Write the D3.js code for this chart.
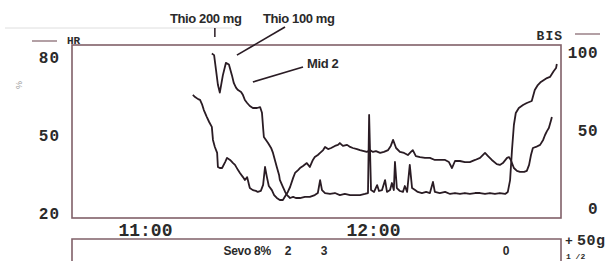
<!DOCTYPE html>
<html>
<head>
<meta charset="utf-8">
<script src="https://cdn.jsdelivr.net/npm/d3@7"></script>
<style>
  body { margin: 0; background: #fff; }
  svg { display: block; }
  .mono { font-family: "Liberation Mono", "DejaVu Sans Mono", monospace; font-weight: bold; fill: #2a2a2a; }
  .note { font-family: "Liberation Sans", Arial, sans-serif; font-weight: bold; fill: #2a2a2a; }
</style>
</head>
<body>
<div id="chart"></div>
<script>
// [minutes after 10:00, value]
const hr = [
  [72.6,65.4],[73.2,64.6],[74.0,63.8],[74.5,63.5],[75.0,61.9],[75.5,59.6],[76.3,56.9],[76.9,55.0],
  [77.6,53.1],[77.9,48.1],[78.4,45.4],[79.0,43.1],[79.2,37.7],[79.7,37.3],[80.3,37.3],[81.1,39.6],
  [81.6,41.2],[82.4,40.4],[83.2,39.2],[83.7,38.5],[84.5,36.5],[85.0,35.4],[85.8,33.8],[86.3,32.7],
  [86.9,33.8],[87.4,30.8],[87.6,29.6],[88.4,28.8],[89.2,28.5],[89.7,28.1],[90.5,28.5],[91.1,30.8],
  [91.6,37.7],[92.1,33.8],[92.6,30.4],[93.4,28.8],[94.0,26.9],[94.7,25.8],[95.5,25.0],[96.3,25.0],
  [97.1,26.9],[97.6,28.1],[98.2,30.0],[99.0,33.5],[99.5,35.4],[100.3,36.5],[100.8,37.3],[101.6,38.1],
  [102.6,39.2],[103.4,37.7],[104.2,40.4],[104.7,41.5],[105.5,42.3],[106.1,43.1],[106.9,44.2],[107.4,45.4],
  [108.2,44.6],[109.0,45.0],[110.0,45.8],[110.8,46.2],[111.3,46.9],[112.1,45.8],[113.2,46.2],[114.0,45.4],
  [114.7,45.0],[115.8,44.6],[116.6,44.2],[117.6,43.8],[118.4,43.5],[119.2,44.2],[120.0,43.5],[120.8,43.8],
  [121.9,43.1],[122.9,43.5],[124.0,44.2],[124.7,45.8],[125.3,48.1],[126.1,45.0],[127.1,43.5],[128.2,43.1],
  [129.2,42.3],[130.0,43.5],[130.5,44.2],[131.3,41.9],[132.4,41.5],[133.7,41.2],[135.0,41.2],[136.3,40.4],
  [137.6,40.4],[139.0,40.4],[140.0,39.6],[140.8,37.3],[141.6,40.0],[142.9,40.0],[144.2,39.6],[145.5,39.6],
  [146.9,40.4],[148.2,41.2],[149.5,43.1],[150.3,41.9],[151.3,40.4],[152.6,38.8],[153.4,38.5],[154.2,39.2],
  [155.3,41.2],[155.8,41.5],[156.3,40.4],[157.1,37.3],[157.9,36.2],[158.7,35.8],[159.8,35.8],[160.5,36.2],
  [161.1,38.5],[161.6,42.3],[162.1,45.0],[162.9,45.4],[164.0,46.2],[164.8,48.1],[165.3,50.0],[165.8,51.5],
  [166.3,52.7],[166.9,55.8],[167.1,56.9]
];
const bis = [
  [77.6,99],[78.2,98],[78.7,88.5],[79.2,79],[79.7,74],[80.5,85],[81.3,93],[82.1,92],[82.9,85],[83.4,80],
  [84.0,77],[84.5,75.6],[85.3,74.4],[85.8,72.4],[86.3,69.2],[86.9,67.3],[87.6,65.4],[88.4,64.1],[89.5,64.1],
  [90.3,64.7],[90.8,61],[91.1,51.3],[91.3,45.5],[92.4,41.7],[93.2,38.5],[93.7,35.3],[94.2,30.8],[94.7,26.3],
  [95.3,21.2],[95.5,18],[96.3,13.5],[96.9,10.3],[97.4,8.3],[98.2,6.4],[99.0,7.1],[99.7,6.4],[100.8,6.4],
  [102.1,7.1],[103.4,7.1],[104.7,8.3],[105.5,9.6],[106.1,17.9],[106.6,11.5],[107.4,9.6],[108.7,9.0],
  [110.0,9.6],[111.3,8.3],[112.6,9.0],[114.0,8.3],[115.3,8.3],[116.6,8.3],[117.9,9.0],[118.7,9.6],
  [119.0,59.6],[119.5,11.5],[120.3,10.3],[121.1,14.7],[121.6,10.9],[122.4,11.5],[123.2,17.9],[123.7,10.3],
  [124.5,11.5],[125.0,16.0],[125.5,11.5],[125.8,29.5],[126.3,12.8],[127.1,10.9],[127.9,10.3],[128.4,14.1],
  [129.0,10.3],[129.7,27.6],[130.3,12.8],[131.1,11.5],[131.8,10.3],[132.9,9.6],[134.0,10.3],[135.0,9.6],
  [135.8,16.7],[136.3,10.3],[137.6,9.6],[139.0,10.3],[140.3,9.0],[141.6,9.6],[142.9,9.0],[144.2,9.6],
  [145.5,9.0],[146.9,9.6],[148.2,9.6],[149.5,9.0],[150.8,9.6],[152.1,9.0],[153.4,9.6],[154.8,9.0],
  [155.5,10.3],[156.1,17.9],[156.6,37.2],[157.1,53.2],[157.6,60.9],[158.4,64.1],[159.5,66],[160.5,67.3],
  [161.8,68.6],[162.6,75.6],[163.4,78.8],[164.2,80.8],[165.0,82.1],[165.8,83.3],[166.6,84],[167.1,85.9],
  [167.6,87.8],[168.2,89.7],[168.4,92.3]
];
const hrTicks = [20, 50, 80];
const bisTicks = [0, 50, 100];
const timeTicks = [60, 120];
const timeLabels = ["11:00", "12:00"];
const drugTimes = [86.9, 97.6, 107.1, 155.0];
const drugLabels = ["Sevo 8%", "2", "3", "0"];

const width = 616, height = 261;
const box = { left: 72, right: 561, top: 45, bottom: 218 };
const ink = "#2a1c24", frame = "#806068";

const svg = d3.select("#chart").append("svg")
  .attr("width", width)
  .attr("height", height);

const x = d3.scaleLinear().domain([40.8, 169.5]).range([box.left, box.right]);
const yL = d3.scaleLinear().domain([20, 80]).range([213, 57]);
const yR = d3.scaleLinear().domain([0, 100]).range([208, 52]);

// faint scan line at top
svg.append("line")
  .attr("x1", 5).attr("x2", 232).attr("y1", 28).attr("y2", 28)
  .attr("stroke", "#dedede").attr("stroke-width", 1);

// frame
svg.append("rect")
  .attr("x", box.left).attr("y", box.top)
  .attr("width", box.right - box.left).attr("height", box.bottom - box.top)
  .attr("fill", "none").attr("stroke", frame).attr("stroke-width", 1.6);

// lower panel
svg.append("path")
  .attr("d", `M${box.left},${height}V239H${box.right}V${height}`)
  .attr("fill", "none").attr("stroke", frame).attr("stroke-width", 1.6);

// axes
svg.append("g")
  .attr("transform", `translate(${box.left},0)`)
  .call(d3.axisLeft(yL).tickValues(hrTicks).tickSize(0).tickPadding(12))
  .call(g => g.select(".domain").remove())
  .selectAll("text")
  .attr("class", "mono")
  .style("font-size", "16px")
  .style("letter-spacing", "1px");

svg.append("g")
  .attr("transform", `translate(${box.right},0)`)
  .call(d3.axisRight(yR).tickValues(bisTicks).tickSize(0).tickPadding(37))
  .call(g => g.select(".domain").remove())
  .selectAll("text")
  .attr("class", "mono")
  .attr("text-anchor", "end")
  .style("font-size", "16px")
  .style("letter-spacing", "0.5px");

svg.append("g")
  .attr("transform", `translate(0,${box.bottom})`)
  .call(d3.axisBottom(x).tickValues(timeTicks).tickFormat((d, i) => timeLabels[i]).tickSize(0).tickPadding(5))
  .call(g => g.select(".domain").remove())
  .selectAll("text")
  .attr("class", "mono")
  .style("font-size", "18px");

// legends
svg.append("line").attr("x1", 32).attr("x2", 57).attr("y1", 41).attr("y2", 41)
  .attr("stroke", frame).attr("stroke-width", 1.2);
svg.append("text").attr("class", "mono").attr("x", 67).attr("y", 44)
  .style("font-size", "11px").text("HR");
svg.append("line").attr("x1", 575).attr("x2", 600).attr("y1", 34).attr("y2", 34)
  .attr("stroke", frame).attr("stroke-width", 1.2);
svg.append("text").attr("class", "mono").attr("x", 563).attr("y", 40)
  .attr("text-anchor", "end").style("font-size", "13px").style("letter-spacing", "1px").text("BIS");
svg.append("text").attr("x", 22).attr("y", 85)
  .attr("transform", "rotate(-90,22,85)").attr("text-anchor", "middle")
  .style("font", "9px 'Liberation Sans'").attr("fill", "#9a9a9a").text("%");

// traces
const lineL = d3.line().x(d => x(d[0])).y(d => yL(d[1]));
const lineR = d3.line().x(d => x(d[0])).y(d => yR(d[1]));

svg.append("path").datum(hr)
  .attr("fill", "none").attr("stroke", ink).attr("stroke-width", 1.8)
  .attr("stroke-linejoin", "round").attr("d", lineL);
svg.append("path").datum(bis)
  .attr("fill", "none").attr("stroke", ink).attr("stroke-width", 1.8)
  .attr("stroke-linejoin", "round").attr("d", lineR);

// drug annotations
svg.append("line")
  .attr("x1", x(78.4)).attr("x2", x(78.4)).attr("y1", 28).attr("y2", 37)
  .attr("stroke", ink).attr("stroke-width", 1.5);
svg.append("text").attr("class", "note").attr("x", 170).attr("y", 23)
  .style("font-size", "13px").style("letter-spacing", "-0.4px").text("Thio 200 mg");

svg.append("line")
  .attr("x1", 285).attr("y1", 27).attr("x2", x(84.2)).attr("y2", yR(98))
  .attr("stroke", ink).attr("stroke-width", 1.7);
svg.append("text").attr("class", "note").attr("x", 263).attr("y", 23)
  .style("font-size", "13px").style("letter-spacing", "-0.4px").text("Thio 100 mg");

svg.append("line")
  .attr("x1", 303).attr("y1", 67).attr("x2", x(88.4)).attr("y2", yR(80.8))
  .attr("stroke", ink).attr("stroke-width", 1.7);
svg.append("text").attr("class", "note").attr("x", 307).attr("y", 68)
  .style("font-size", "13px").style("letter-spacing", "-0.4px").text("Mid 2");

// lower panel labels
svg.selectAll("text.drug")
  .data(drugTimes)
  .join("text")
  .attr("class", "note drug")
  .attr("x", d => x(d))
  .attr("y", 255)
  .attr("text-anchor", "middle")
  .style("font-size", "12px")
  .style("letter-spacing", "-0.3px")
  .text((d, i) => drugLabels[i]);

svg.append("text").attr("class", "mono").attr("x", 565).attr("y", 245)
  .style("font-size", "13px").text("+");
svg.append("text").attr("class", "mono").attr("x", 577).attr("y", 245)
  .style("font-size", "15px").style("letter-spacing", "0.5px").text("50g");
svg.append("text").attr("class", "mono").attr("x", 566).attr("y", 259)
  .style("font-size", "8px").text("1 /2");
</script>
</body>
</html>
